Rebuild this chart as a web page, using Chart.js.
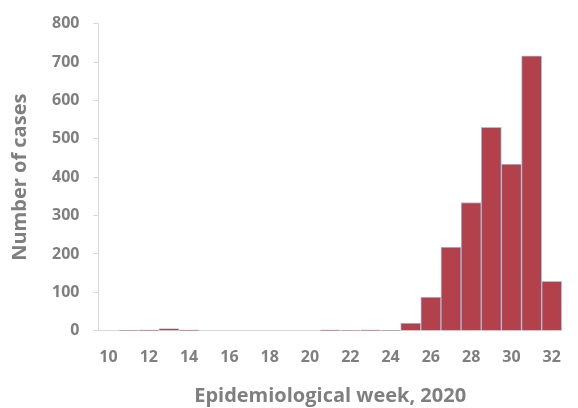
<!DOCTYPE html>
<html>
<head>
<meta charset="utf-8">
<script src="https://cdn.jsdelivr.net/npm/chart.js@4"></script>
<style>
  html, body { margin: 0; padding: 0; background: #fff; }
  #wrap { width: 578px; height: 408px; }
</style>
</head>
<body>
<div id="wrap"><canvas id="casesChart"></canvas></div>
<script>
// epidemiological weeks 10..32
const weeks = ['10','11','12','13','14','15','16','17','18','19','20','21','22','23','24','25','26','27','28','29','30','31','32'];
const cases = [0, 1, 2, 6, 2, 0, 0, 0, 0, 0, 0, 2, 1, 2, 1, 20, 88, 218, 334, 530, 434, 716, 129];
const yTicks = [0, 100, 200, 300, 400, 500, 600, 700, 800];

const textGrey = '#7f7f7f';
const fontFam = '"Open Sans", "Noto Sans", sans-serif';

let ctx = document.getElementById('casesChart').getContext('2d');
new Chart(ctx, {
    type: 'bar',
    data: {
        labels: weeks,
        datasets: [{
            label: 'Cases',
            data: cases,
            backgroundColor: '#b3414b',
            borderColor: '#a9bfd6',
            borderWidth: 1,
            barPercentage: 1.0,
            categoryPercentage: 1.0
        }]
    },
    options: {
        responsive: true,
        maintainAspectRatio: false,
        animation: false,
        layout: { padding: { top: 23, right: 5, left: 8, bottom: 0 } },
        plugins: {
            legend: { display: false },
            tooltip: { enabled: false }
        },
        scales: {
            x: {
                grid: { display: false, drawTicks: false },
                border: { display: true, color: '#d9d9d9', width: 1 },
                ticks: {
                    autoSkip: false,
                    maxRotation: 0,
                    padding: 17,
                    color: textGrey,
                    font: { family: fontFam, size: 16, weight: 'bold' },
                    callback: function(val, i) {
                        return i % 2 === 0 ? weeks[i] : '';
                    }
                },
                title: {
                    display: true,
                    text: 'Epidemiological week, 2020',
                    color: textGrey,
                    padding: { top: 0, bottom: 0 },
                    font: { family: fontFam, size: 20, weight: 'bold' }
                }
            },
            y: {
                min: 0,
                max: 800,
                afterBuildTicks: function(axis) {
                    axis.ticks = yTicks.map(v => ({ value: v }));
                },
                grid: { drawOnChartArea: false, drawTicks: true, tickLength: 5, color: '#d9d9d9' },
                border: { display: true, color: '#d9d9d9', width: 1 },
                ticks: {
                    padding: 14,
                    color: textGrey,
                    font: { family: fontFam, size: 16, weight: 'bold' }
                },
                title: {
                    display: true,
                    text: 'Number of cases',
                    color: textGrey,
                    padding: { top: 0, bottom: 6 },
                    font: { family: fontFam, size: 20, weight: 'bold' }
                }
            }
        }
    }
});
</script>
</body>
</html>
